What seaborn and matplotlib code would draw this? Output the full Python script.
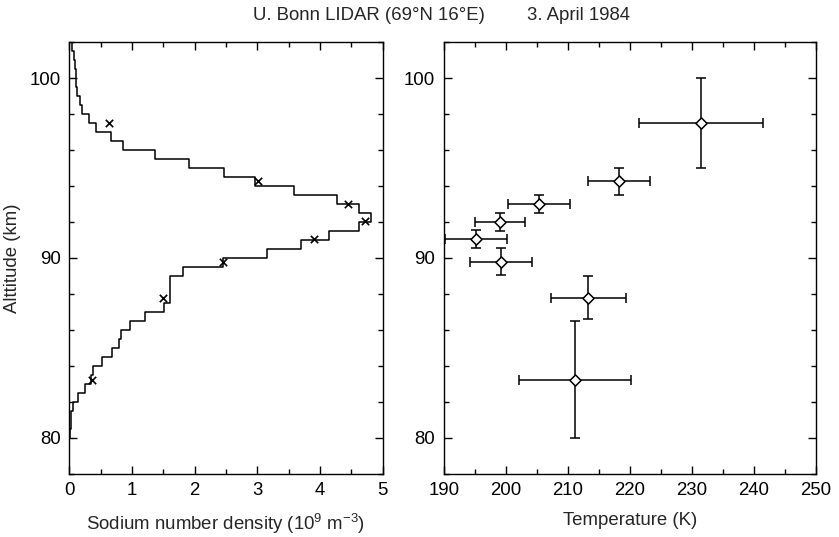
import numpy as np
import pandas as pd
import matplotlib
matplotlib.use("Agg")
import matplotlib.pyplot as plt
from matplotlib.ticker import MultipleLocator
import seaborn as sns

# ---- data ----
# sodium density profile, 0.5 km bins (lower edges) and values (10^9 m^-3)
bin_lower = [80.0, 80.5, 81.0, 81.5, 82.0, 82.5, 83.0, 83.5, 84.0, 84.5,
             85.0, 85.5, 86.0, 86.5, 87.0, 87.5, 88.0, 88.5, 89.0, 89.5,
             90.0, 90.5, 91.0, 91.5, 92.0, 92.5, 93.0, 93.5, 94.0, 94.5,
             95.0, 95.5, 96.0, 96.5, 97.0, 97.5, 98.0, 98.5, 99.0, 99.5,
             100.0, 100.5, 101.0, 101.5]
na_density = [0.01, 0.02, 0.03, 0.06, 0.14, 0.25, 0.35, 0.38, 0.52, 0.68,
              0.79, 0.82, 0.97, 1.21, 1.51, 1.60, 1.60, 1.60, 1.82, 2.46,
              3.16, 3.70, 4.15, 4.62, 4.82, 4.62, 4.27, 3.58, 2.96, 2.47,
              1.91, 1.37, 0.86, 0.66, 0.42, 0.32, 0.21, 0.17, 0.13, 0.10,
              0.10, 0.09, 0.075, 0.05]
bin_width = 0.5

# density at temperature retrieval altitudes (x markers)
mark_density = [0.64, 3.01, 4.445, 4.72, 3.90, 2.45, 1.50, 0.37]
mark_alt = [97.5, 94.28, 93.02, 92.04, 91.04, 89.76, 87.76, 83.24]

# temperatures
temp_alt = [97.5, 94.26, 93.0, 92.02, 91.04, 89.8, 87.8, 83.24]
temp_K = [231.4, 218.3, 205.3, 199.1, 195.2, 199.2, 213.3, 211.2]
temp_xerr = [10, 5, 5, 4, 5, 5, 6, 9]
temp_yerr = [2.5, 0.75, 0.5, 0.5, 0.5, 0.75, 1.2, 3.25]

title_left = "U. Bonn LIDAR (69°N 16°E)"
title_right = "3. April 1984"

# ---- style ----
sns.set_theme(style="ticks")
plt.rcParams['font.family'] = ['Liberation Sans', 'DejaVu Sans']
plt.rcParams['mathtext.fontset'] = 'custom'
plt.rcParams['mathtext.rm'] = 'Liberation Sans'
plt.rcParams['mathtext.it'] = 'Liberation Sans'
plt.rcParams['mathtext.default'] = 'regular'
FS = 13.4

fig = plt.figure(figsize=(8.39, 5.37), dpi=100)
W, H = 839, 537
def axbox(x0, x1, y0, y1):
    return [x0 / W, (H - y1) / H, (x1 - x0) / W, (y1 - y0) / H]

ax1 = fig.add_axes(axbox(69.3, 382.7, 42.3, 473.7))
ax2 = fig.add_axes(axbox(443.7, 816.0, 42.3, 473.7))

# step profile
xs, ys = [], []
for lo, v in zip(bin_lower, na_density):
    xs += [v, v]
    ys += [lo, lo + bin_width]
prof = pd.DataFrame({"density": xs, "alt": ys})
sns.lineplot(data=prof, x="density", y="alt", sort=False, estimator=None,
             color="black", lw=1.1, ax=ax1)
marks = pd.DataFrame({"density": mark_density, "alt": mark_alt})
sns.scatterplot(data=marks, x="density", y="alt", marker="x", color="black",
                s=28, linewidth=1.2, ax=ax1, zorder=3)

# temperatures
tdf = pd.DataFrame({"T": temp_K, "alt": temp_alt})
ax2.errorbar(temp_K, temp_alt, xerr=temp_xerr, yerr=temp_yerr, fmt="none",
             ecolor="black", elinewidth=1.1, capsize=3.5, capthick=1.1, zorder=2)
sns.scatterplot(data=tdf, x="T", y="alt", marker="D", s=32, color="white",
                edgecolor="black", linewidth=1.1, ax=ax2, zorder=3)

for ax in (ax1, ax2):
    ax.set_ylim(78, 102)
    ax.yaxis.set_major_locator(MultipleLocator(10))
    ax.yaxis.set_minor_locator(MultipleLocator(2))
    ax.tick_params(which="both", direction="in", top=True, right=True,
                   colors="black", labelsize=FS, pad=6)
    ax.tick_params(which="major", length=6, width=1.0)
    ax.tick_params(which="minor", length=3.5, width=1.0)
    for s in ax.spines.values():
        s.set_color("black")
        s.set_linewidth(1.0)
    ax.set_ylabel("")

ax1.set_xlim(0, 5)
ax1.xaxis.set_major_locator(MultipleLocator(1))
ax1.xaxis.set_minor_locator(MultipleLocator(0.5))
ax2.set_xlim(190, 250)
ax2.xaxis.set_major_locator(MultipleLocator(10))
ax2.xaxis.set_minor_locator(MultipleLocator(5))

ax1.set_xlabel("Sodium number density (10$^{9}$ m$^{-3}$)", fontsize=FS, labelpad=9)
ax2.set_xlabel("Temperature (K)", fontsize=FS, labelpad=9)
ax1.set_ylabel("Alttitude (km)", fontsize=FS, labelpad=6)

fig.text(253 / W, 1 - 15 / H, title_left, fontsize=FS, ha="left", va="center")
fig.text(527 / W, 1 - 15 / H, title_right, fontsize=FS, ha="left", va="center")

fig.savefig("out.png", dpi=100)
